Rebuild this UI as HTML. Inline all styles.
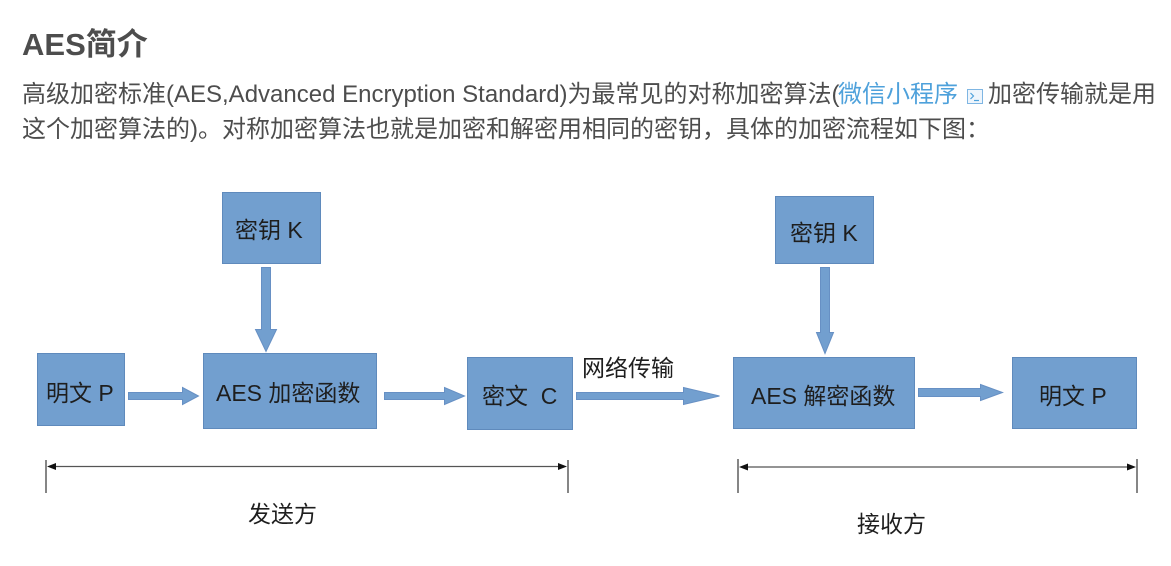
<!DOCTYPE html>
<html>
<head>
<meta charset="utf-8">
<style>
  html, body { margin:0; padding:0; background:#ffffff; }
  body { width:1171px; height:566px; overflow:hidden; }
  svg { display:block; }
  .t { font-family: "Liberation Sans", "Noto Sans CJK SC", sans-serif; }
</style>
</head>
<body>
<svg width="1171" height="566" viewBox="0 0 1171 566" xmlns="http://www.w3.org/2000/svg">
  <!-- Title -->
  <text class="t" x="22" y="55" font-size="31" font-weight="bold" fill="#4d4d4d">AES简介</text>

  <!-- Paragraph -->
  <text class="t" x="22" y="102" font-size="24" fill="#4d4d4d">高级加密标准(AES,Advanced Encryption Standard)为最常见的对称加密算法(</text>
  <text class="t" x="838" y="102" font-size="24" fill="#4ea1db">微信小程序</text>
  <g>
    <rect x="967.5" y="89.5" width="15" height="14" fill="#eef5fc" stroke="#7fb6e3" stroke-width="1"/>
    <polyline points="970.5,93 973.5,96 970.5,99" fill="none" stroke="#4ea1db" stroke-width="1.2"/>
    <line x1="974" y1="100.5" x2="979" y2="100.5" stroke="#4ea1db" stroke-width="1.2"/>
  </g>
  <text class="t" x="988" y="102" font-size="24" fill="#4d4d4d">加密传输就是用</text>
  <text class="t" x="22" y="137" font-size="24" fill="#4d4d4d">这个加密算法的)。对称加密算法也就是加密和解密用相同的密钥，具体的加密流程如下图：</text>

  <!-- Boxes -->
  <g fill="#729fcf" stroke="#5f8abc" stroke-width="1">
    <rect x="222.5" y="192.5" width="98" height="71"/>
    <rect x="37.5" y="353.5" width="87" height="72"/>
    <rect x="203.5" y="353.5" width="173" height="75"/>
    <rect x="467.5" y="357.5" width="105" height="72"/>
    <rect x="775.5" y="196.5" width="98" height="67"/>
    <rect x="733.5" y="357.5" width="181" height="71"/>
    <rect x="1012.5" y="357.5" width="124" height="71"/>
  </g>

  <!-- Arrows -->
  <g fill="#729fcf" stroke="#6790c4" stroke-width="1">
    <!-- key1 down -->
    <polygon points="261.5,267.5 270.5,267.5 270.5,329.5 276.5,329.5 266,351.5 255.5,329.5 261.5,329.5"/>
    <!-- P -> AES -->
    <polygon points="128.5,392.5 182.5,392.5 182.5,387.5 198.5,396 182.5,404.5 182.5,399.5 128.5,399.5"/>
    <!-- AES -> C -->
    <polygon points="384.5,392.5 444.5,392.5 444.5,387.5 464.5,396 444.5,404.5 444.5,399.5 384.5,399.5"/>
    <!-- network -->
    <polygon points="576.5,392.5 683.5,392.5 683.5,387.5 719.5,396 683.5,404.5 683.5,399.5 576.5,399.5"/>
    <!-- key2 down -->
    <polygon points="820.5,267.5 829.5,267.5 829.5,332.5 833.5,332.5 825,353.5 816.5,332.5 820.5,332.5"/>
    <!-- decrypt -> P -->
    <polygon points="918.5,388.5 980.5,388.5 980.5,384.5 1002.5,392.5 980.5,400.5 980.5,396.5 918.5,396.5"/>
  </g>

  <!-- Box labels -->
  <g class="t" font-size="23" fill="#1e1e1e">
    <text x="235" y="238">密钥 K</text>
    <text x="46" y="401">明文 P</text>
    <text x="216" y="401">AES 加密函数</text>
    <text x="482" y="404" xml:space="preserve">密文  C</text>
    <text x="582" y="376">网络传输</text>
    <text x="790" y="241">密钥 K</text>
    <text x="751" y="404">AES 解密函数</text>
    <text x="1039" y="404">明文 P</text>
    <text x="248" y="522">发送方</text>
    <text x="857" y="532">接收方</text>
  </g>

  <!-- Bracket: sender -->
  <g stroke="#444" stroke-width="1.3">
    <line x1="46" y1="460" x2="46" y2="493"/>
    <line x1="568" y1="460" x2="568" y2="493"/>
    <line x1="50" y1="466.5" x2="564" y2="466.5" stroke="#555" stroke-width="1.2"/>
  </g>
  <polygon points="47,466.5 56,463 56,470" fill="#111"/>
  <polygon points="567,466.5 558,463 558,470" fill="#111"/>

  <!-- Bracket: receiver -->
  <g stroke="#444" stroke-width="1.3">
    <line x1="738" y1="459" x2="738" y2="493"/>
    <line x1="1137" y1="459" x2="1137" y2="493"/>
    <line x1="742" y1="467" x2="1133" y2="467" stroke="#555" stroke-width="1.2"/>
  </g>
  <polygon points="739,467 748,463.5 748,470.5" fill="#111"/>
  <polygon points="1136,467 1127,463.5 1127,470.5" fill="#111"/>
</svg>
</body>
</html>
